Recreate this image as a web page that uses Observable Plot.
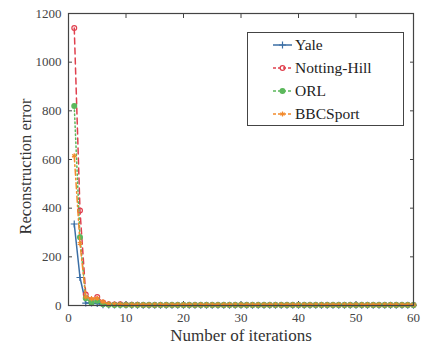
<!DOCTYPE html>
<html>
<head>
<meta charset="utf-8">
<script src="https://cdn.jsdelivr.net/npm/d3@7"></script>
<script src="https://cdn.jsdelivr.net/npm/@observablehq/plot@0.6"></script>
<style>
  body { margin: 0; background: #fff; }
  #wrap { position: relative; width: 421px; height: 345px; font-family: "Liberation Serif", Tinos, "Times New Roman", "DejaVu Serif", serif; }
  #wrap svg, #wrap text { font-family: "Liberation Serif", Tinos, "Times New Roman", "DejaVu Serif", serif !important; }
  #legend { position: absolute; left: 247px; top: 32px; }
</style>
</head>
<body>
<div id="wrap"></div>
<script>
const iterations = d3.range(1, 61);
const seriesNames = ["Yale", "Notting-Hill", "ORL", "BBCSport"];
const seriesColors = ["#3b6ea5", "#e0404e", "#5cb85c", "#f28a2c"];
const seriesDash = [null, "6,4", "1.5,2.5", "6,3,1.5,3"];
const seriesSymbols = ["plus", "circle", "circle", "asterisk"];
const seriesFill = ["none", "none", "#5cb85c", "none"];

const yale = [335,115,10,10,8,3,2,2,2,2, 1,1,1,1,1,1,1,1,1,1, 1,1,1,1,1,1,1,1,1,1, 1,1,1,1,1,1,1,1,1,1, 1,1,1,1,1,1,1,1,1,1, 1,1,1,1,1,1,1,1,1,1];
const nottingHill = [1140,390,45,22,35,12,5,4,5,3, 3,3,2,2,2,2,2,2,2,2, 2,2,2,2,2,2,2,2,2,2, 2,2,2,2,2,2,2,2,2,2, 2,2,2,2,2,2,2,2,2,2, 2,2,2,2,2,2,2,2,2,2];
const orl = [820,280,30,10,20,5,3,2,2,2, 2,2,2,2,2,2,2,2,2,2, 2,2,2,2,2,2,2,2,2,2, 2,2,2,2,2,2,2,2,2,2, 2,2,2,2,2,2,2,2,2,2, 2,2,2,2,2,2,2,2,2,2];
const bbcSport = [615,255,35,28,30,15,6,5,4,3, 3,3,3,3,3,3,3,3,3,3, 3,3,3,3,3,3,3,3,3,3, 3,3,3,3,3,3,3,3,3,3, 3,3,3,3,3,3,3,3,3,3, 3,3,3,3,3,3,3,3,3,3];
const seriesValues = [yale, nottingHill, orl, bbcSport];

const xTicks = [0, 10, 20, 30, 40, 50, 60];
const yTicks = [0, 200, 400, 600, 800, 1000, 1200];

const data = [];
seriesNames.forEach((name, s) => {
  iterations.forEach((it, i) => data.push({series: name, s, it, v: seriesValues[s][i]}));
});

const serif = "'Liberation Serif', Tinos, 'Times New Roman', 'DejaVu Serif', serif";
const axisColor = "#444";
const fmt = d3.format("d");
const marks = [];
marks.push(Plot.axisX(xTicks, {anchor: "bottom", tickSize: 0, tickPadding: 7, fontSize: 13, color: axisColor, label: null, tickFormat: fmt}));
marks.push(Plot.axisY(yTicks, {anchor: "left", tickSize: 0, tickPadding: 7, fontSize: 13, color: axisColor, label: null, tickFormat: fmt}));
marks.push(Plot.axisX(xTicks, {anchor: "bottom", tickSize: -4, tickFormat: () => "", stroke: axisColor, label: null}));
marks.push(Plot.axisX(xTicks, {anchor: "top", tickSize: -4, tickFormat: () => "", stroke: axisColor, label: null}));
marks.push(Plot.axisY(yTicks, {anchor: "left", tickSize: -4, tickFormat: () => "", stroke: axisColor, label: null}));
marks.push(Plot.axisY(yTicks, {anchor: "right", tickSize: -4, tickFormat: () => "", stroke: axisColor, label: null}));

seriesNames.forEach((name, s) => {
  const d = data.filter(r => r.s === s);
  marks.push(Plot.line(d, {x: "it", y: "v", stroke: seriesColors[s], strokeWidth: 1.5, strokeDasharray: seriesDash[s]}));
  marks.push(Plot.dot(d, {x: "it", y: "v", stroke: seriesColors[s], fill: seriesFill[s], symbol: seriesSymbols[s], r: 2.4, strokeWidth: 1.2}));
});

marks.push(Plot.frame({stroke: axisColor, strokeWidth: 1.2}));
marks.push(Plot.text(["Number of iterations"], {frameAnchor: "bottom", dy: 23, fontSize: 17, fill: "#333", lineAnchor: "top", textAnchor: "middle"}));
marks.push(Plot.text(["Reconstruction error"], {frameAnchor: "left", textAnchor: "middle", lineAnchor: "middle", rotate: -90, dx: -43, dy: 7, fontSize: 16.5, fill: "#333"}));

const chart = Plot.plot({
  width: 421,
  height: 345,
  marginLeft: 68,
  marginRight: 8,
  marginTop: 13,
  marginBottom: 40,
  style: {fontFamily: serif, background: "white", overflow: "visible"},
  x: {domain: [0, 60]},
  y: {domain: [0, 1200]},
  marks
});
document.getElementById("wrap").appendChild(chart);

const lw = 157, lh = 94;
const leg = d3.select("#wrap").append("svg").attr("id", "legend").attr("width", lw).attr("height", lh);
leg.append("rect").attr("x", 0.5).attr("y", 0.5).attr("width", lw - 1).attr("height", lh - 1)
  .attr("fill", "white").attr("stroke", axisColor).attr("stroke-width", 1);
seriesNames.forEach((name, s) => {
  const cy = 13 + s * 23;
  const g = leg.append("g");
  g.append("line").attr("x1", 26).attr("x2", 45).attr("y1", cy).attr("y2", cy)
    .attr("stroke", seriesColors[s]).attr("stroke-width", 1.5).attr("stroke-dasharray", seriesDash[s] ? "3,2" : null);
  const sym = {plus: d3.symbolPlus, circle: d3.symbolCircle, asterisk: d3.symbolAsterisk}[seriesSymbols[s]];
  g.append("path").attr("d", d3.symbol(sym, Math.PI * 2.4 * 2.4)())
    .attr("transform", `translate(35.5,${cy})`)
    .attr("stroke", seriesColors[s]).attr("fill", seriesFill[s]).attr("stroke-width", 1.2);
  g.append("text").attr("x", 48).attr("y", cy).attr("dy", "0.35em")
    .attr("font-size", 15.5).attr("fill", "#222").attr("font-family", serif).text(name);
});
</script>
</body>
</html>
